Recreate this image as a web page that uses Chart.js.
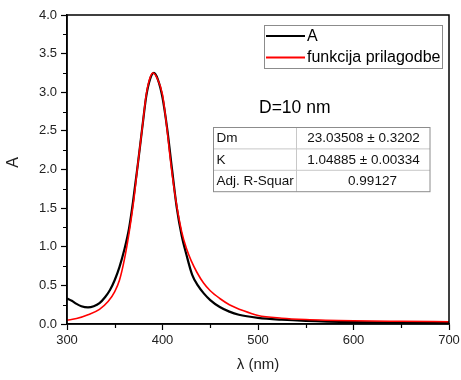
<!DOCTYPE html>
<html><head><meta charset="utf-8">
<script src="https://cdn.jsdelivr.net/npm/chart.js@4/dist/chart.umd.min.js"></script>
<style>html,body{margin:0;padding:0;background:#fff;} #wrap{width:461px;height:380px;position:relative;}</style>
</head><body><div id="wrap"><canvas id="c" width="461" height="380"></canvas></div>
<script>
// ---- data ----
const wavelengthA = [300,305,310,315,322,328,334,340,345,350,355,360,365,369,374,379,383,387,391,395,400,405,410,415,420,425,431,437,443,450,460,470,480,500,525,550,600,650,700];
const absorbanceA = [0.33,0.30,0.26,0.23,0.215,0.23,0.27,0.35,0.44,0.57,0.74,0.96,1.24,1.57,2.05,2.56,2.95,3.17,3.25,3.17,2.93,2.52,2.00,1.50,1.15,0.90,0.64,0.50,0.40,0.31,0.22,0.16,0.12,0.08,0.055,0.04,0.025,0.02,0.015];
const wavelengthFit = [300,310,322,334,343,350,355,360,365,370,374,379,383,387,390,394,400,404,409,414,420,425,430,436,443,450,460,470,485,500,525,550,600,650,700];
const absorbanceFit = [0.05,0.07,0.12,0.19,0.29,0.42,0.57,0.83,1.18,1.61,2.05,2.56,2.97,3.19,3.25,3.19,2.97,2.60,2.05,1.60,1.20,0.98,0.82,0.67,0.53,0.43,0.33,0.25,0.17,0.11,0.075,0.058,0.042,0.035,0.03];
const seriesLabels = ['A', 'funkcija prilagodbe'];
const seriesColors = ['#000000', '#ff0000'];
const xAxisTitle = 'λ (nm)';
const yAxisTitle = 'A';
const annotationText = 'D=10 nm';
const tableRows = [['Dm', '23.03508 ± 0.3202'], ['K', '1.04885 ± 0.00334'], ['Adj. R-Squar', '0.99127']];
const xRange = [300, 700], xMajorStep = 100;
const yRange = [0, 4], yMajorStep = 0.5;

const toPoints = (xs, ys) => xs.map((x, i) => ({x: x, y: ys[i]}));
const FONT = '"Liberation Sans", Arial, sans-serif';

const extras = {
  id: 'extras',
  afterDraw(chart) {
    const ctx = chart.ctx, a = chart.chartArea;
    const xs = chart.scales.x, ys = chart.scales.y;
    ctx.save();
    // minor ticks
    ctx.strokeStyle = '#000'; ctx.lineWidth = 1.2;
    ctx.beginPath();
    for (let v = xRange[0] + xMajorStep / 2; v < xRange[1]; v += xMajorStep) {
      const p = Math.round(xs.getPixelForValue(v)) + 0.5;
      ctx.moveTo(p, a.bottom); ctx.lineTo(p, a.bottom + 4);
    }
    for (let v = yRange[0] + yMajorStep / 2; v < yRange[1]; v += yMajorStep) {
      const p = Math.round(ys.getPixelForValue(v)) + 0.5;
      ctx.moveTo(a.left, p); ctx.lineTo(a.left - 4, p);
    }
    ctx.stroke();
    // frame
    ctx.lineWidth = 1.5;
    ctx.strokeRect(a.left, a.top, a.right - a.left, a.bottom - a.top);

    // y axis title
    ctx.save();
    ctx.translate(14, (a.top + a.bottom) / 2 - 7);
    ctx.rotate(-Math.PI / 2);
    ctx.font = '16px ' + FONT; ctx.fillStyle = '#222'; ctx.textAlign = 'center'; ctx.textBaseline = 'middle';
    ctx.fillText(yAxisTitle, 0, 0);
    ctx.restore();

    // legend box
    const lx = a.left + 197.5, ly = a.top + 10.5, lw = 178, lh = 43;
    ctx.fillStyle = '#fff'; ctx.fillRect(lx, ly, lw, lh);
    ctx.strokeStyle = '#8c8c8c'; ctx.lineWidth = 1; ctx.strokeRect(lx, ly, lw, lh);
    ctx.font = '16px ' + FONT; ctx.textBaseline = 'middle'; ctx.textAlign = 'left';
    seriesLabels.forEach((lab, i) => {
      const yy = ly + 10.5 + i * 21.5;
      ctx.strokeStyle = seriesColors[i]; ctx.lineWidth = 1.8;
      ctx.beginPath(); ctx.moveTo(lx + 1.5, yy); ctx.lineTo(lx + 40.5, yy); ctx.stroke();
      ctx.fillStyle = '#000'; ctx.fillText(lab, lx + 42.5, yy + 0.5);
    });

    // annotation text
    ctx.font = '17.5px ' + FONT; ctx.fillStyle = '#000';
    ctx.fillText(annotationText, a.left + 192, a.top + 93);

    // parameter table
    const tx = a.left + 146.5, ty = a.top + 112.5, tw = 216.5, rh = 21.4, cx = a.left + 229.5;
    ctx.strokeStyle = '#c8c8c8'; ctx.lineWidth = 1;
    ctx.beginPath();
    for (let r = 1; r < tableRows.length; r++) { ctx.moveTo(tx, ty + r * rh); ctx.lineTo(tx + tw, ty + r * rh); }
    ctx.moveTo(cx, ty); ctx.lineTo(cx, ty + rh * tableRows.length);
    ctx.stroke();
    ctx.strokeStyle = '#8c8c8c';
    ctx.strokeRect(tx, ty, tw, rh * tableRows.length);
    ctx.font = '13.5px ' + FONT; ctx.fillStyle = '#111';
    tableRows.forEach((row, r) => {
      const yy = ty + r * rh + rh / 2 + 0.5;
      ctx.textAlign = 'left'; ctx.fillText(row[0], tx + 3, yy);
      ctx.textAlign = 'center';
      ctx.fillText(row[1], r === tableRows.length - 1 ? cx + 76 : cx + 67, yy);
    });
    ctx.restore();
  }
};

new Chart(document.getElementById('c'), {
  type: 'line',
  data: {
    datasets: [
      {label: seriesLabels[0], data: toPoints(wavelengthA, absorbanceA), borderColor: seriesColors[0], borderWidth: 2.2, pointRadius: 0, cubicInterpolationMode: 'monotone', order: 1},
      {label: seriesLabels[1], data: toPoints(wavelengthFit, absorbanceFit), borderColor: seriesColors[1], borderWidth: 1.6, pointRadius: 0, cubicInterpolationMode: 'monotone', order: 0}
    ]
  },
  options: {
    responsive: false, animation: false, devicePixelRatio: 1,
    layout: {padding: {left: 0, top: 15, right: 12, bottom: 0}},
    plugins: {legend: {display: false}, tooltip: {enabled: false}},
    scales: {
      x: {
        type: 'linear', min: xRange[0], max: xRange[1],
        ticks: {stepSize: xMajorStep, font: {family: FONT, size: 13}, color: '#222', padding: 3, maxRotation: 0},
        grid: {drawOnChartArea: false, tickLength: 6, color: '#000', tickWidth: 1.2},
        border: {color: '#000', width: 1.5},
        title: {display: true, text: xAxisTitle, font: {family: FONT, size: 15}, color: '#222', padding: {top: 0, bottom: 6}},
        afterFit: s => { s.height = 56; s.paddingLeft = 0; s.paddingRight = 0; }
      },
      y: {
        min: yRange[0], max: yRange[1],
        ticks: {stepSize: yMajorStep, font: {family: FONT, size: 13}, color: '#222', padding: 4, callback: v => v.toFixed(1)},
        grid: {drawOnChartArea: false, tickLength: 6, color: '#000', tickWidth: 1.2},
        border: {color: '#000', width: 1.5},
        title: {display: false, text: yAxisTitle},
        afterFit: s => { s.width = 67; s.paddingTop = 0; s.paddingBottom = 0; }
      }
    }
  },
  plugins: [extras]
});
</script>
</body></html>
